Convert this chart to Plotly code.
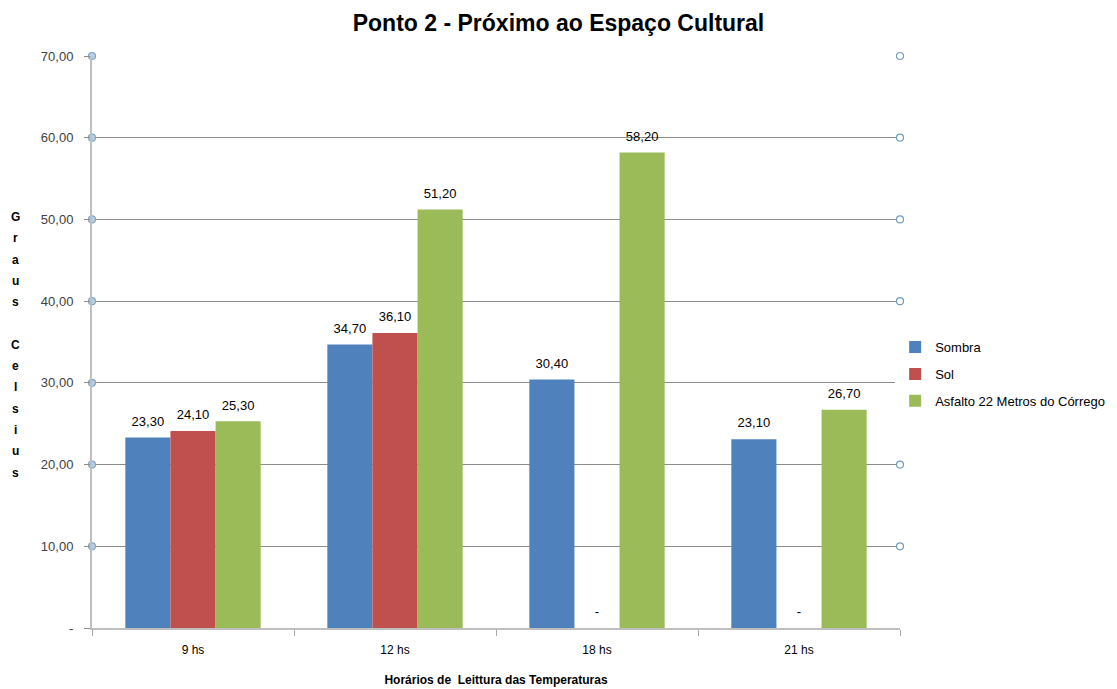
import plotly.graph_objects as go

categories = ["9 hs", "12 hs", "18 hs", "21 hs"]
sombra = [23.30, 34.70, 30.40, 23.10]
sol = [24.10, 36.10, 0.0, 0.0]
asfalto = [25.30, 51.20, 58.20, 26.70]
series_names = ["Sombra", "Sol", "Asfalto 22 Metros do Córrego"]
colors = ["#4F81BD", "#C0504D", "#9BBB59"]
ytick_vals = [0, 10, 20, 30, 40, 50, 60, 70]
y_title = "Graus Celsius"


def fmt(v):
    return "-" if v == 0 else f"{v:.2f}".replace(".", ",")


ytick_text = [fmt(v) for v in ytick_vals]

FONT = "Liberation Sans"
fig = go.Figure()
for name, vals, col in zip(series_names, [sombra, sol, asfalto], colors):
    fig.add_trace(go.Bar(
        x=categories, y=vals, name=name, legendgroup=name,
        marker_color=col, marker_line_width=0, offsetgroup=name,
    ))
# data labels: grouped text scatter aligned with the bars
for name, vals in zip(series_names, [sombra, sol, asfalto]):
    fig.add_trace(go.Scatter(
        x=categories, y=vals, mode="markers+text", offsetgroup=name,
        text=[fmt(v) for v in vals], textposition="top center",
        textfont=dict(family=FONT, size=13, color="#000000"),
        marker=dict(size=12, opacity=0), showlegend=False, hoverinfo="skip",
        cliponaxis=False,
    ))

# circle markers on gridline ends (left filled, right open)
gv = [v for v in ytick_vals if v > 0]
n = len(gv)
fig.add_trace(go.Scatter(
    x=[0] * n + [1] * n, y=gv + gv, xaxis="x2", mode="markers",
    marker=dict(symbol="circle", size=7,
                color=["#B9CDE5"] * n + ["#FFFFFF"] * n,
                line=dict(width=1.2, color=["#7FA6C9"] * n + ["#6E9BC5"] * n)),
    showlegend=False, hoverinfo="skip", cliponaxis=False,
))

# vertical stacked y-axis title, one letter per row
plot_h = 689 - 56 - 61
row_px = 21.3
top_px = 217
annotations = []
for i, ch in enumerate(y_title):
    if ch == " ":
        continue
    ypix = top_px + i * row_px
    annotations.append(dict(
        text="<b>" + ch + "</b>", xref="paper", yref="paper",
        x=(15 - 92) / 808, y=(628 - ypix) / plot_h,
        xanchor="center", yanchor="middle", showarrow=False,
        font=dict(family=FONT, size=12, color="#000000"),
    ))

fig.update_layout(
    width=1117, height=689,
    margin=dict(l=92, r=217, t=56, b=61, autoexpand=False),
    paper_bgcolor="white", plot_bgcolor="white",
    barmode="group", bargap=0.33, bargroupgap=0,
    scattermode="group", scattergap=0.33,
    title=dict(text="<b>Ponto 2 - Próximo ao Espaço Cultural</b>", x=0.5, xref="container",
               xanchor="center", y=0.967, yanchor="middle",
               font=dict(family=FONT, size=23, color="#000000")),
    font=dict(family=FONT, size=12, color="#404040"),
    legend=dict(x=0.994, y=0.444, xanchor="left", yanchor="middle",
                font=dict(family=FONT, size=13, color="#000000"),
                tracegroupgap=7, itemwidth=30),
    xaxis=dict(
        type="category", showline=True, linecolor="#BFBFBF", linewidth=2,
        ticks="outside", ticklen=6, tickcolor="#A6A6A6", tickson="boundaries",
        showgrid=False, automargin=False, ticklabelstandoff=10,
        tickfont=dict(family=FONT, size=12, color="#000000"),
        title=dict(text="<b>Horários de  Leittura das Temperaturas</b>",
                   font=dict(family=FONT, size=12, color="#000000"), standoff=19),
    ),
    xaxis2=dict(overlaying="x", range=[0, 1], visible=False),
    yaxis=dict(
        range=[0, 70], tickvals=ytick_vals, ticktext=ytick_text,
        showline=True, linecolor="#BFBFBF", linewidth=2, automargin=False,
        ticks="outside", ticklen=6, tickcolor="#8C8C8C", ticklabelstandoff=8,
        showgrid=True, gridcolor="#8C8C8C", gridwidth=1, zeroline=False,
        tickfont=dict(family=FONT, size=13, color="#404040"),
    ),
    annotations=annotations,
)

fig.write_html("out.html", config={"displayModeBar": False},
               post_script="document.body.style.margin='0px';")
